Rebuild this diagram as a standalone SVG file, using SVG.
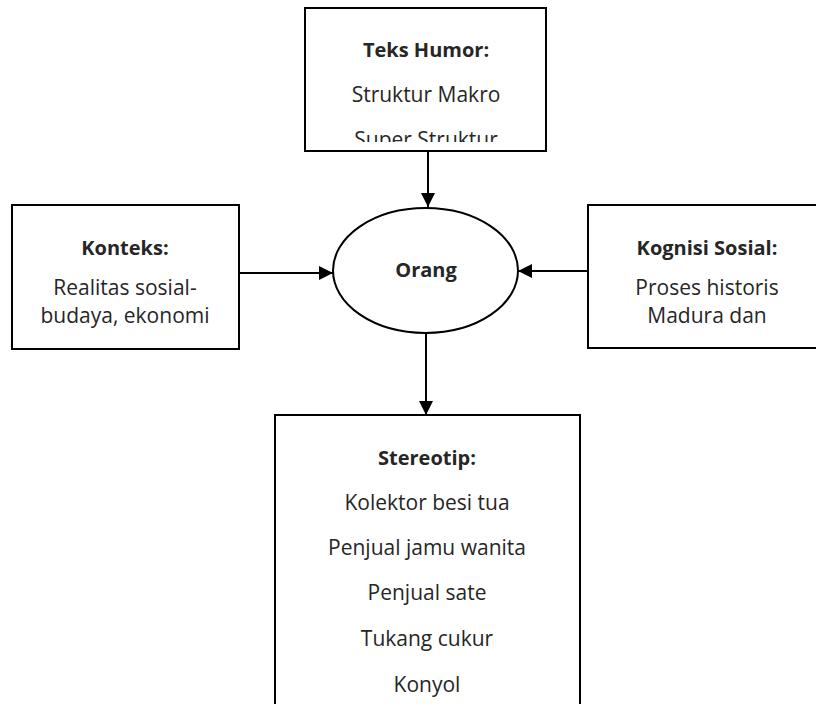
<svg xmlns="http://www.w3.org/2000/svg" width="816" height="704" viewBox="0 0 816 704">
<style>
  .box { fill: #ffffff; stroke: #000000; stroke-width: 2; }
  .edge { fill: none; stroke: #000000; stroke-width: 2; }
  text { font-family: "Open Sans", "Noto Sans", "Liberation Sans", sans-serif; fill: #262626; text-anchor: middle; }
  .t { font-size: 20px; font-weight: bold; }
  .b { font-size: 21px; }
</style>
<defs>
  <marker id="arrow" markerUnits="userSpaceOnUse" markerWidth="14" markerHeight="14" viewBox="0 0 14 14" refX="14" refY="7" orient="auto">
    <path d="M0,0 L14,7 L0,14 Z" fill="#000000"/>
  </marker>
  <clipPath id="clipTop"><rect x="305" y="8" width="241" height="134"/></clipPath>
</defs>
<rect width="816" height="704" fill="#ffffff"/>
<g id="connectors">
  <line class="edge" x1="428" y1="151" x2="428" y2="207" marker-end="url(#arrow)"/>
  <line class="edge" x1="240" y1="273" x2="333" y2="273" marker-end="url(#arrow)"/>
  <line class="edge" x1="588" y1="271" x2="518" y2="271" marker-end="url(#arrow)"/>
  <line class="edge" x1="426" y1="333" x2="426" y2="415" marker-end="url(#arrow)"/>
</g>
<g id="teks-humor">
  <rect class="box" x="305" y="8" width="241" height="143"/>
  <g clip-path="url(#clipTop)">
    <text class="t" x="426" y="57">Teks Humor:</text>
    <text class="b" x="426" y="102">Struktur Makro</text>
    <text class="b" x="426" y="147">Super Struktur</text>
  </g>
</g>
<g id="konteks">
  <rect class="box" x="12" y="205" width="227" height="144"/>
  <text class="t" x="125" y="255">Konteks:</text>
  <text class="b" x="125" y="295">Realitas sosial-</text>
  <text class="b" x="125" y="323">budaya, ekonomi</text>
</g>
<g id="orang">
  <ellipse class="box" cx="425.5" cy="270.5" rx="92.5" ry="62.5"/>
  <text class="t" x="426" y="277">Orang</text>
</g>
<g id="kognisi-sosial">
  <rect class="box" x="588" y="205" width="238" height="143"/>
  <text class="t" x="707" y="255">Kognisi Sosial:</text>
  <text class="b" x="707" y="295">Proses historis</text>
  <text class="b" x="707" y="323">Madura dan</text>
</g>
<g id="stereotip">
  <rect class="box" x="275" y="415" width="305" height="300"/>
  <text class="t" x="427" y="465">Stereotip:</text>
  <text class="b" x="427" y="510">Kolektor besi tua</text>
  <text class="b" x="427" y="555">Penjual jamu wanita</text>
  <text class="b" x="427" y="600">Penjual sate</text>
  <text class="b" x="427" y="646">Tukang cukur</text>
  <text class="b" x="427" y="692">Konyol</text>
</g>
</svg>
